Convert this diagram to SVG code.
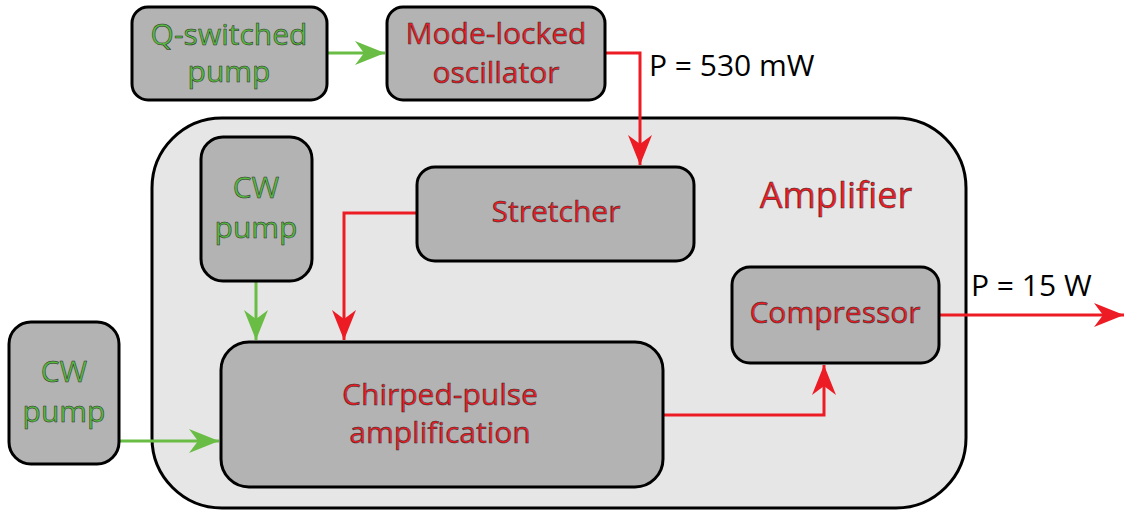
<svg xmlns="http://www.w3.org/2000/svg" width="1126" height="510" viewBox="0 0 1126 510">
<style>
.node{fill:#b3b3b3;stroke:#000;stroke-width:3}
.lbl{font-family:"Open Sans","Liberation Sans",sans-serif;font-size:30px;text-anchor:middle;stroke:#2a2a2a;stroke-width:0.5;stroke-linejoin:round}
.g{fill:#56b83f}
.r{fill:#ee1c25}
.plain{font-family:"Open Sans","Liberation Sans",sans-serif;font-size:30px;fill:#000}
.gl{stroke:#69bd45;stroke-width:3;fill:none}
.rl{stroke:#ed1c24;stroke-width:3;fill:none}
</style>
<defs>
<marker id="ag" markerUnits="userSpaceOnUse" markerWidth="32" markerHeight="28" viewBox="-30 -13 32 26" refX="0" refY="0" orient="auto">
<path d="M0,0 L-30,-12 L-21,0 L-30,12 Z" fill="#69bd45"/>
</marker>
<marker id="ar" markerUnits="userSpaceOnUse" markerWidth="32" markerHeight="28" viewBox="-30 -13 32 26" refX="0" refY="0" orient="auto">
<path d="M0,0 L-30,-12 L-21,0 L-30,12 Z" fill="#ed1c24"/>
</marker>
</defs>
<g id="amplifier">
<rect x="152" y="118" width="814" height="390" rx="70" fill="#e6e6e6" stroke="#000" stroke-width="3"/>
<text class="lbl r" x="836" y="208" style="font-size:36px">Amplifier</text>
</g>
<g id="connectors">
<path class="gl" d="M327,53 L385,53" marker-end="url(#ag)"/>
<path class="rl" d="M605,53 L640,53 L640,165" marker-end="url(#ar)"/>
<path class="rl" d="M417,213 L344,213 L344,340" marker-end="url(#ar)"/>
<path class="gl" d="M256,281 L256,340" marker-end="url(#ag)"/>
<path class="gl" d="M119,441 L219,441" marker-end="url(#ag)"/>
<path class="rl" d="M663,415 L824,415 L824,365" marker-end="url(#ar)"/>
<path class="rl" d="M939,315 L1124,315" marker-end="url(#ar)"/>
<text class="plain" x="649" y="76">P = 530 mW</text>
<text class="plain" x="971" y="296">P = 15 W</text>
</g>
<g id="qswitched">
<rect class="node" x="132" y="7" width="195" height="93" rx="16"/>
<text class="lbl g" x="229" y="45">Q-switched</text>
<text class="lbl g" x="229" y="82">pump</text>
</g>
<g id="oscillator">
<rect class="node" x="387" y="7" width="218" height="93" rx="16"/>
<text class="lbl r" x="496" y="44">Mode-locked</text>
<text class="lbl r" x="496" y="83">oscillator</text>
</g>
<g id="stretcher">
<rect class="node" x="417" y="167" width="277" height="94" rx="18"/>
<text class="lbl r" x="556" y="222">Stretcher</text>
</g>
<g id="cwpump1">
<rect class="node" x="201" y="137" width="111" height="144" rx="22"/>
<text class="lbl g" x="256" y="198">CW</text>
<text class="lbl g" x="256" y="238">pump</text>
</g>
<g id="cwpump2">
<rect class="node" x="9" y="322" width="110" height="142" rx="22"/>
<text class="lbl g" x="64" y="382">CW</text>
<text class="lbl g" x="64" y="422">pump</text>
</g>
<g id="chirped">
<rect class="node" x="221" y="342" width="442" height="145" rx="28"/>
<text class="lbl r" x="440" y="405">Chirped-pulse</text>
<text class="lbl r" x="440" y="443">amplification</text>
</g>
<g id="compressor">
<rect class="node" x="732" y="267" width="207" height="96" rx="18"/>
<text class="lbl r" x="835" y="323">Compressor</text>
</g>
</svg>
